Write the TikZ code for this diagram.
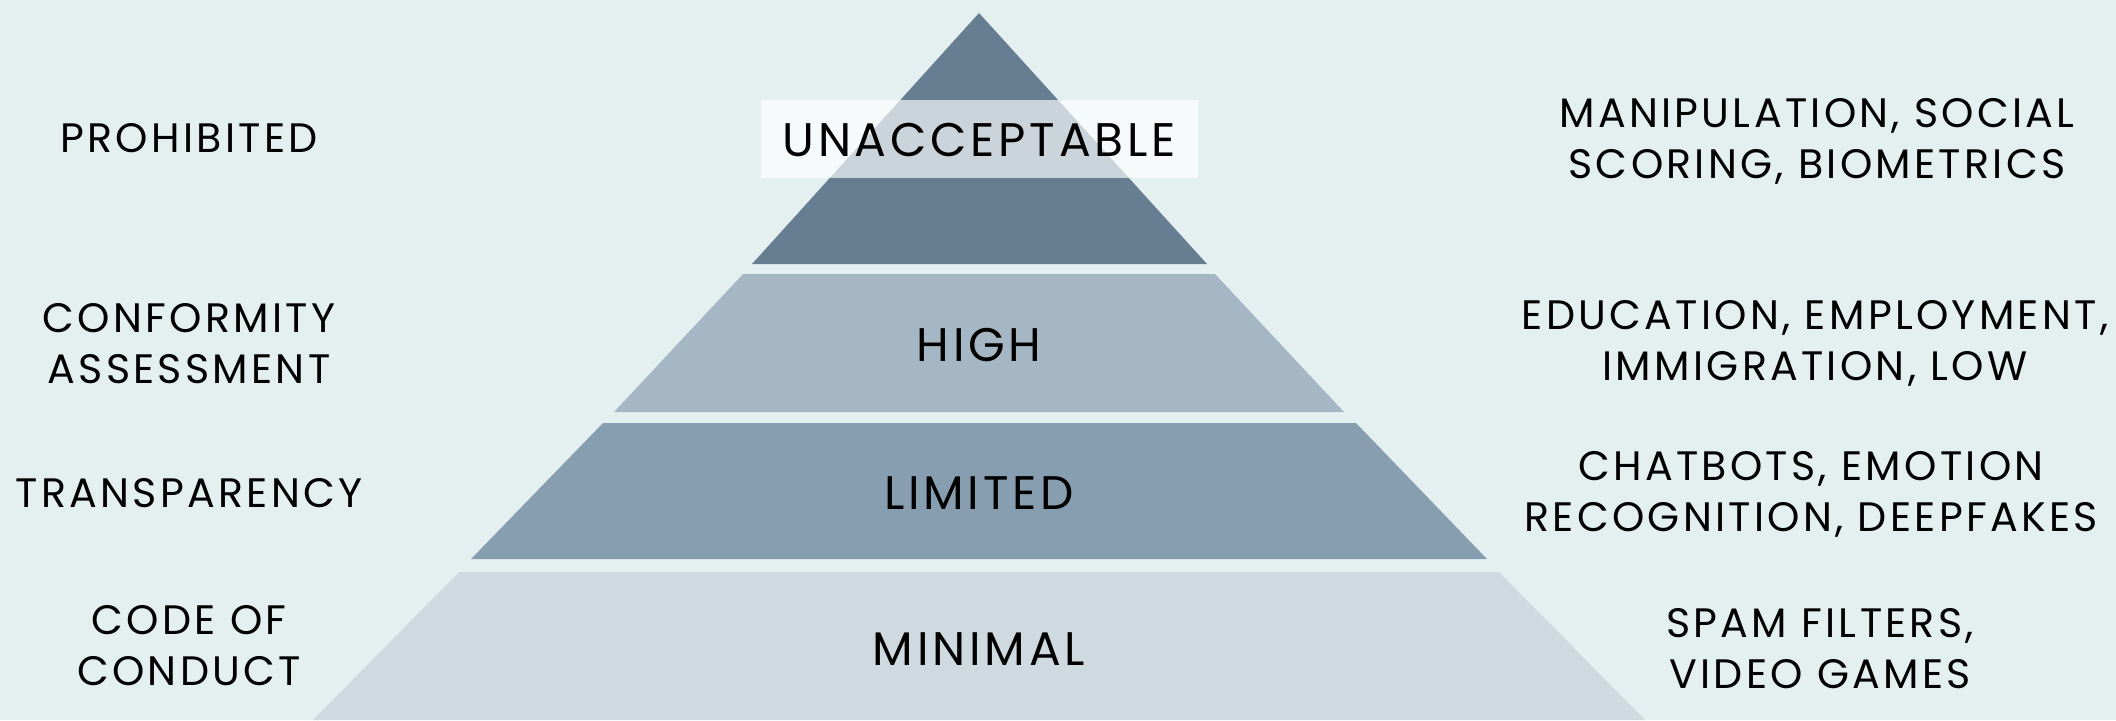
\documentclass[tikz,border=0pt]{standalone}
\usepackage{fontspec}
\setmainfont{Poppins}[LetterSpace=8]
\usepackage{xcolor}
\usepackage{tikz}

\definecolor{bgcol}{HTML}{E4F0F0}
\definecolor{unacc}{HTML}{667D92}
\definecolor{highcol}{HTML}{A5B6C4}
\definecolor{limcol}{HTML}{879EB1}
\definecolor{mincol}{HTML}{CFDAE0}

\begin{document}
\begin{tikzpicture}[x=0.01cm, y=-0.01cm,
    side/.style={align=center, inner sep=0pt, font=\fontsize{11.7}{14.5}\selectfont},
    tierlabel/.style={inner sep=0pt, font=\fontsize{13.4}{16}\selectfont}]
    % Background
    \fill[bgcol] (0,0) rectangle (2116,720);
    \useasboundingbox (0,0) rectangle (2116,720);

    % Pyramid tiers
    \fill[unacc] (979,13) -- (1207,264) -- (752,264) -- cycle;
    \fill[highcol] (743,274) -- (1215,274) -- (1344,412) -- (614,412) -- cycle;
    \fill[limcol] (603,423) -- (1356,423) -- (1487,559) -- (471,559) -- cycle;
    \fill[mincol] (459,572) -- (1499,572) -- (1645,720) -- (313,720) -- cycle;

    % Tier names
    \fill[white, opacity=0.67] (761,100) rectangle (1198,178);
    \node[tierlabel] (unacceptable) at (979,140) {UNACCEPTABLE};
    \node[tierlabel] (high) at (979,345) {HIGH};
    \node[tierlabel] (limited) at (979,493) {LIMITED};
    \node[tierlabel] (minimal) at (979,649) {MINIMAL};

    % Obligations
    \node[side] (prohibited) at (189,138) {PROHIBITED};
    \node[side] (conformity) at (189,344) {CONFORMITY\\ASSESSMENT};
    \node[side] (transparency) at (189,493) {TRANSPARENCY};
    \node[side] (conduct) at (189,646) {CODE OF\\CONDUCT};

    % Examples
    \node[side] (manipulation) at (1817,141) {MANIPULATION, SOCIAL\\SCORING, BIOMETRICS};
    \node[side] (education) at (1815,343) {EDUCATION, EMPLOYMENT,\\IMMIGRATION, LOW};
    \node[side] (chatbots) at (1811,494) {CHATBOTS, EMOTION\\RECOGNITION, DEEPFAKES};
    \node[side] (spam) at (1820,649) {SPAM FILTERS,\\VIDEO GAMES};
\end{tikzpicture}
\end{document}
